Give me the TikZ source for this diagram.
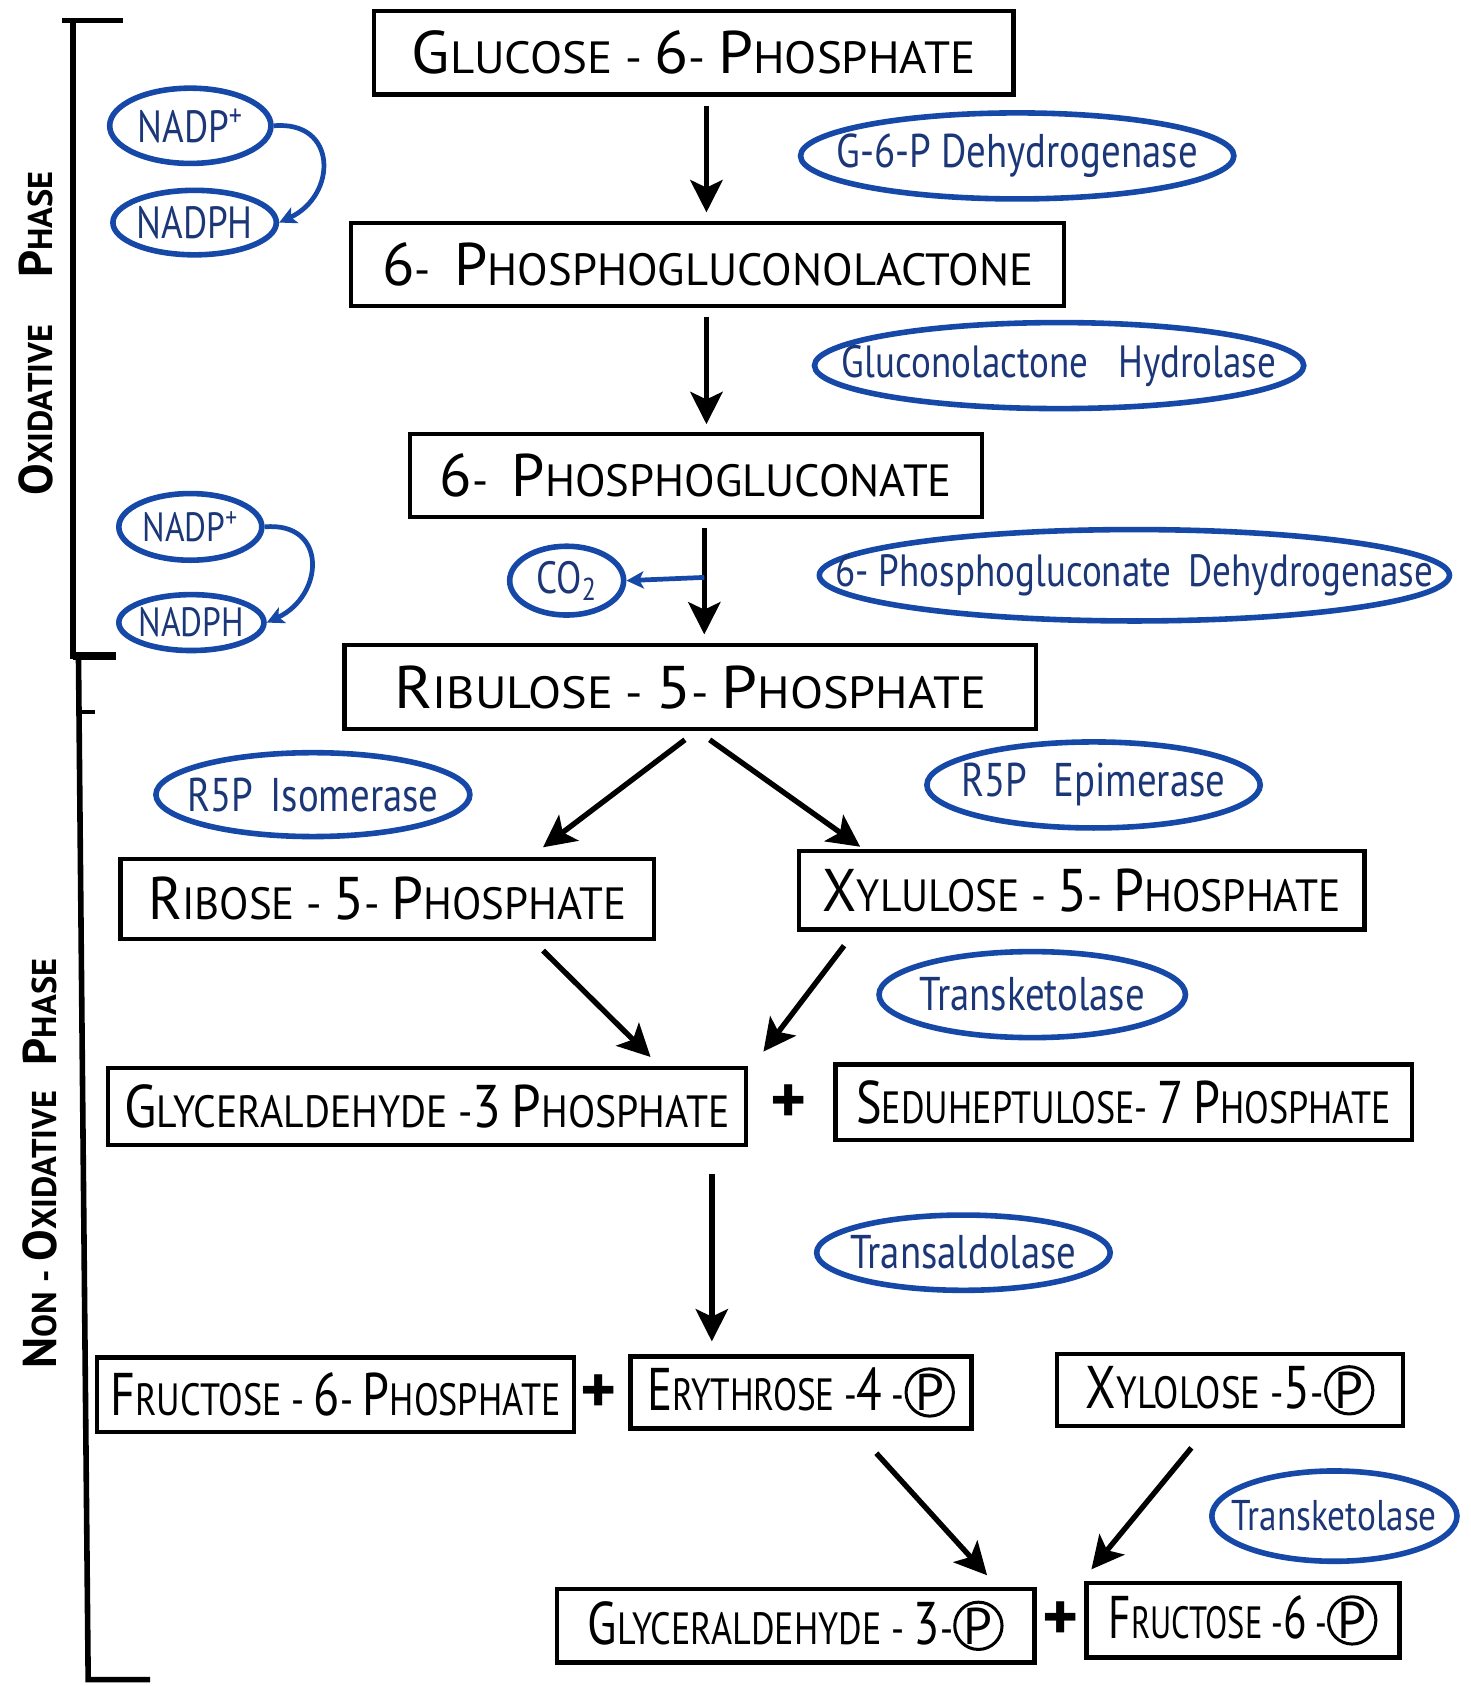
\documentclass[tikz,border=0pt]{standalone}
\usepackage{fontspec}
\usepackage{graphicx}
\setmainfont{PT Sans}
\newfontfamily\enzfont[FakeStretch=0.82]{PT Sans}
\newfontfamily\boxfont{PT Sans}
\usetikzlibrary{shapes.geometric,arrows.meta,calc}
\definecolor{ellblue}{RGB}{22,72,168}
\definecolor{txtblue}{RGB}{28,55,120}
\newcommand{\Bg}[1]{{\fontsize{28}{28}\selectfont #1}}
\newcommand{\Bs}[1]{{\fontsize{22}{22}\selectfont #1}}
\newcommand{\circP}{\tikz[baseline=(cp.base)]\node[draw,circle,minimum width=22pt,minimum height=22pt,inner sep=0pt,line width=1.4pt,font=\boxfont\fontsize{24}{24}\selectfont](cp){P};}
\newcommand{\hs}[2]{\scalebox{#1}[1]{#2}}
\newcommand{\ez}[1]{\makebox[0pt]{#1}}
\tikzset{
  box/.style={draw, line width=2pt, inner sep=0pt, align=center, font=\boxfont\fontsize{21}{21}\selectfont},
  enz/.style={ellipse, draw=ellblue, line width=2.6pt, inner sep=0pt, text=txtblue, font=\enzfont\fontsize{22}{22}\selectfont},
  cof/.style={ellipse, draw=ellblue, line width=2.6pt, inner sep=0pt, text=txtblue, font=\enzfont\fontsize{21}{21}\selectfont},
  arr/.style={line width=2.5pt, -{Stealth[length=15pt,width=15pt,inset=3.5pt]}},
  barr/.style={draw=ellblue, line width=2.2pt, -{Stealth[length=8pt,width=8pt,inset=2pt]}},
  plus/.style={font=\bfseries\fontsize{32}{32}\selectfont, inner sep=0pt},
  phase/.style={rotate=90, inner sep=0pt, font=\boxfont\bfseries\fontsize{16}{16}\selectfont},
  brk/.style={line width=2.6pt, line cap=rect}
}
\begin{document}
\begin{tikzpicture}[x=0.5pt,y=-0.5pt]
\fill[white] (0,0) rectangle (1368,1568);
\useasboundingbox (0,0) rectangle (1368,1568);

% bracket
\draw[brk] (60,19) -- (68,19) -- (68,610);
\draw[brk] (68,19) -- (112,19);
\draw[line width=3.4pt] (68,610) -- (108,610);
\draw[brk] (73,612) -- (82,1562) -- (137,1562);
\draw[line width=1.6pt] (73,662) -- (88,662);
\node[phase] (oxl) at (33,310) {\Bs{O}XIDATIVE\hspace{22pt}\Bs{P}HASE};
\node[phase] (nonl) at (37,1082) {\Bs{N}ON - \Bs{O}XIDATIVE\hspace{12pt}\Bs{P}HASE};

% boxes
\node[box, minimum width=297.5pt, minimum height=39pt] (g6p) at (645,49) {\hs{1.04}{\Bg{G}LUCOSE - \Bg{6}- \Bg{P}HOSPHATE}};
\node[box, minimum width=331.5pt, minimum height=38.5pt] (pgl) at (658,246) {\hs{0.99}{\Bg{6}- \ \Bg{P}HOSPHOGLUCONOLACTONE}};
\node[box, minimum width=266pt, minimum height=38.5pt] (pg) at (647,442) {\hs{0.99}{\Bg{6}- \ \Bg{P}HOSPHOGLUCONATE}};
\node[box, minimum width=321.5pt, minimum height=39pt] (rl) at (642,639) {\hs{1.07}{\Bg{R}IBULOSE - \Bg{5}- \Bg{P}HOSPHATE}};
\node[box, minimum width=248pt, minimum height=37pt] (r5p) at (360,836) {\hs{0.95}{\Bg{R}IBOSE - \Bg{5}- \Bg{P}HOSPHATE}};
\node[box, minimum width=263pt, minimum height=36.5pt] (x5p) at (1006,828) {\hs{0.92}{\Bg{X}YLULOSE - \Bg{5}- \Bg{P}HOSPHATE}};
\node[box, minimum width=296.5pt, minimum height=36pt] (g3p) at (397,1029) {\hs{0.88}{\Bg{G}LYCERALDEHYDE -\Bg{3} \Bg{P}HOSPHATE}};
\node[box, minimum width=268pt, minimum height=35pt] (s7p) at (1045,1025) {\hs{0.8}{\Bg{S}EDUHEPTULOSE- \Bg{7} \Bg{P}HOSPHATE}};
\node[box, minimum width=221.5pt, minimum height=34.5pt] (f6p) at (312,1297) {\hs{0.8}{\Bg{F}RUCTOSE - \Bg{6}- \Bg{P}HOSPHATE}};
\node[box, minimum width=158.5pt, minimum height=33.5pt] (e4p) at (745,1295) {\hs{0.78}{\Bg{E}RYTHROSE -\Bg{4} -}\circP};
\node[box, minimum width=161pt, minimum height=33.5pt] (xlp) at (1144,1293) {\hs{0.82}{\Bg{X}YLOLOSE -\Bg{5}-}\circP};
\node[box, minimum width=222pt, minimum height=34pt] (gap) at (740,1512) {\hs{0.8}{\Bg{G}LYCERALDEHYDE - \Bg{3}-}\circP};
\node[box, minimum width=145.5pt, minimum height=34.5pt] (f6q) at (1156,1507) {\hs{0.72}{\Bg{F}RUCTOSE -\Bg{6} -}\circP};

% plus signs
\node[plus] (p1) at (733,1027) {+};
\node[plus] (p2) at (557,1297) {+};
\node[plus] (p3) at (986,1508) {+};

% enzymes
\node[enz, minimum width=201.5pt, minimum height=40pt] (g6pd) at (946,145) {\ez{G-6-P Dehydrogenase}};
\node[enz, minimum width=227.5pt, minimum height=40pt, font=\enzfont\fontsize{21}{21}\selectfont] (glh) at (985,340) {\ez{Gluconolactone\hspace{14pt}Hydrolase}};
\node[enz, minimum width=293pt, minimum height=42.5pt, font=\enzfont\fontsize{21}{21}\selectfont] (pgd) at (1055,535) {\ez{6- Phosphogluconate\hspace{8pt}Dehydrogenase}};
\node[enz, minimum width=146pt, minimum height=39pt] (r5pi) at (291,739) {\ez{R5P\hspace{8pt}Isomerase}};
\node[enz, minimum width=155pt, minimum height=40pt] (r5pe) at (1017,730) {\ez{R5P\hspace{12pt}Epimerase}};
\node[enz, minimum width=142.5pt, minimum height=40pt] (tk1) at (960,925) {\ez{Transketolase}};
\node[enz, minimum width=136.5pt, minimum height=35pt] (ta) at (896,1165) {\ez{Transaldolase}};
\node[enz, minimum width=114pt, minimum height=42pt, font=\enzfont\fontsize{20}{20}\selectfont] (tk2) at (1241,1410) {\ez{Transketolase}};

% cofactors
\node[cof, minimum width=75pt, minimum height=35pt] (nadp1) at (177,117) {\ez{NADP\textsuperscript{+}}};
\node[cof, minimum width=76pt, minimum height=30pt] (nadph1) at (181,207) {\ez{NADPH}};
\node[cof, minimum width=66.5pt, minimum height=31pt, font=\enzfont\fontsize{19}{19}\selectfont] (nadp2) at (177,490) {\ez{NADP\textsuperscript{+}}};
\node[cof, minimum width=67.5pt, minimum height=26pt, font=\enzfont\fontsize{19}{19}\selectfont] (nadph2) at (178,579) {\ez{NADPH}};
\node[cof, minimum width=53pt, minimum height=32pt] (co2) at (527,540) {\ez{CO\textsubscript{2}}};

% main arrows
\draw[arr] ($(g6p.south)+(12,9)$) -- ($(pgl.north)+(-1,-8)$);
\draw[arr] ($(pgl.south)+(-1,8)$) -- ($(pg.north)+(10,-7)$);
\draw[arr] ($(pg.south)+(8,9)$) -- ($(rl.north)+(13,-8)$);
\coordinate (co2src) at (655,537);
\draw[barr] (co2src) -- (co2.east);

\draw[arr] ($(rl.south)+(-5,8)$) -- ($(r5p.north)+(145,-9)$);
\draw[arr] ($(rl.south)+(18,8)$) -- ($(x5p.north)+(-206,-2)$);
\draw[arr] ($(r5p.south)+(145,9)$) -- ($(g3p.north)+(208,-8)$);
\draw[arr] ($(x5p.south)+(-221,13)$) -- ($(g3p.north)+(313,-13)$);
\draw[arr] ($(g3p.south)+(265,25)$) -- ($(e4p.north)+(-83,-12)$);
\draw[arr] ($(e4p.south)+(70,21)$) -- ($(gap.north)+(178,-11)$);
\draw[arr] ($(xlp.south)+(-36,18)$) -- ($(f6q.north)+(-141,-11)$);

% cofactor loops
\draw[barr] (nadp1.east) to[out=5,in=25,looseness=1.7] (nadph1.east);
\draw[barr] (nadp2.east) to[out=5,in=25,looseness=1.7] (nadph2.east);
\end{tikzpicture}
\end{document}
